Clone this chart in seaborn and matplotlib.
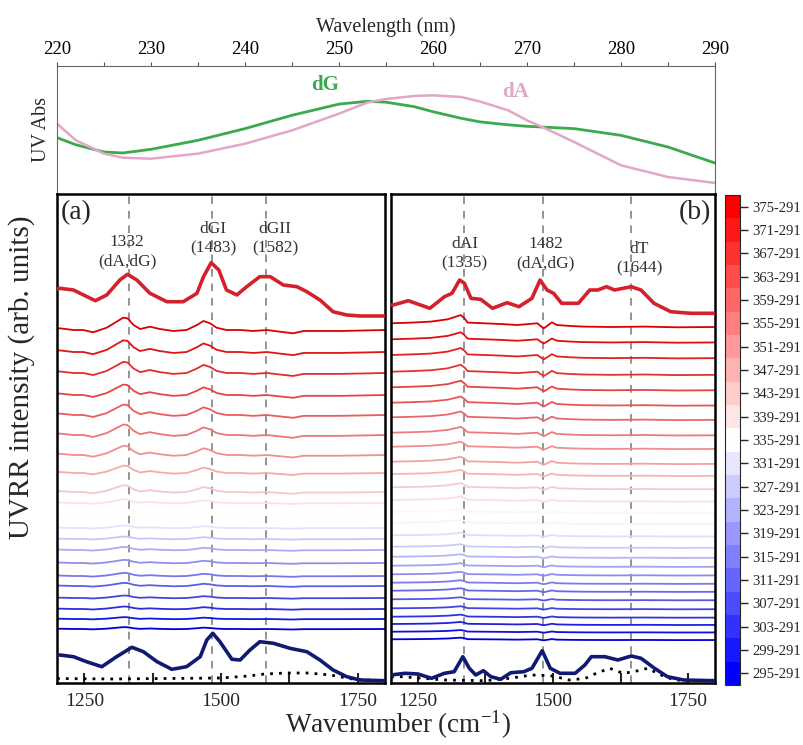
import numpy as np
import matplotlib
matplotlib.use("Agg")
import matplotlib.pyplot as plt
import seaborn as sns
from matplotlib.colors import ListedColormap, BoundaryNorm
from matplotlib.cm import ScalarMappable
from matplotlib.ticker import MultipleLocator

# ---- UV absorption (top panel) ----
wl = [220, 222, 225, 227, 230, 235, 240, 245, 250, 253, 255, 258, 260, 263, 265, 268, 270, 272, 275, 280, 285, 290]
uv_dG = [0.436, 0.38, 0.323, 0.315, 0.344, 0.415, 0.507, 0.612, 0.700, 0.722, 0.715, 0.680, 0.640,
         0.588, 0.560, 0.537, 0.525, 0.518, 0.507, 0.454, 0.362, 0.236]
uv_dA = [0.546, 0.415, 0.310, 0.278, 0.270, 0.310, 0.388, 0.493, 0.625, 0.712, 0.740, 0.764, 0.769,
         0.756, 0.720, 0.651, 0.572, 0.507, 0.402, 0.218, 0.126, 0.079]

# ---- colorbar temperatures ----
temps = [295, 299, 303, 307, 311, 315, 319, 323, 327, 331, 335, 339, 343, 347, 351, 355, 359, 363, 367, 371, 375]

# ---- panel (a) ----
wn_a_top = [1200, 1205, 1230, 1270, 1291, 1315, 1329, 1346, 1370, 1401, 1431, 1456, 1468, 1482, 1496, 1510,
            1529, 1547, 1571, 1590, 1614, 1639, 1657, 1681, 1705, 1730, 1754, 1800]
a_top = [394, 394.7, 393, 382.3, 388, 403, 408.7, 403, 389.7, 381.3, 381.3, 389.7, 406.3, 420.3, 413, 393,
         388, 396.3, 406.3, 406.3, 398, 396.3, 391.3, 383, 371.3, 368, 367, 367]
wn_a_bot = [1200, 1205, 1230, 1254, 1282, 1309, 1337, 1358, 1383, 1410, 1437, 1462, 1474, 1485, 1498, 1520,
            1535, 1553, 1571, 1596, 1626, 1657, 1681, 1705, 1730, 1754, 1800]
a_bot = [28, 28, 26.3, 21.3, 16.3, 26.3, 35.7, 31.3, 21.3, 13.7, 16.3, 26.3, 43, 49.7, 41.3, 23.7,
         23, 33, 41.3, 39.7, 34.7, 31.3, 23, 13, 6.3, 3, 2.3]
wn_a_dot = [1200, 1300, 1400, 1500, 1550, 1580, 1620, 1660, 1700, 1740, 1780, 1800]
a_dot = [4.5, 4, 4.5, 5, 7, 9, 10, 10, 8, 4, 2.5, 2.5]
wn_a_diff = [1200, 1205, 1230, 1248, 1266, 1291, 1309, 1321, 1329, 1340, 1352, 1370, 1388, 1413, 1437, 1456,
             1468, 1480, 1492, 1510, 1535, 1559, 1584, 1608, 1632, 1651, 1675, 1718, 1760, 1800]
diff_a = [1.0, 1.7, 0.0, 0.0, -2.3, 2.3, 8.3, 12.3, 11.7, 5.0, 1.0, 3.3, 1.0, -1.0, 0.0, 5.0,
          9.0, 6.7, 2.3, 0.0, 0.0, -1.0, 0.0, -1.7, -3.3, -1.0, -1.0, -1.0, -0.5, 0.0]
offset_a = [54, 64, 74, 85, 97, 107, 120, 133, 144, 155, 168, 180, 191, 210, 228, 248, 268, 288, 310, 331, 353]
amp_a = [0.15, 0.15, 0.2, 0.2, 0.25, 0.25, 0.25, 0.25, 0.2, 0.2, 0.2,
         0.3, 0.55, 0.6, 0.75, 0.85, 0.85, 0.85, 0.9, 0.95, 1.0]
peaks_a = [1332, 1483, 1582]
labels_a = ["1332\n(dA,dG)", "dGI\n(1483)", "dGII\n(1582)"]
label_pos_a = [(1328, 431), (1486, 444), (1599, 444)]

# ---- panel (b) ----
wn_b_top = [1200, 1204, 1232, 1272, 1299, 1313, 1327, 1336, 1348, 1366, 1388, 1415, 1437, 1461, 1476, 1489,
            1501, 1516, 1547, 1568, 1583, 1599, 1614, 1645, 1663, 1687, 1718, 1755, 1800]
b_top = [378, 378, 382.3, 374.7, 386.3, 389.7, 403, 399.7, 384.7, 383.7, 374.7, 380.3, 376.3, 384.7, 403, 393,
         389.7, 379.7, 379.7, 393, 393, 396.3, 393, 396.3, 393, 379.7, 371.3, 369.7, 369.7]
wn_b_bot = [1200, 1226, 1250, 1275, 1299, 1317, 1333, 1345, 1357, 1371, 1385, 1403, 1422, 1446, 1461, 1480,
            1495, 1513, 1541, 1559, 1571, 1596, 1620, 1645, 1663, 1688, 1712, 1742, 1800]
b_bot = [8, 9.7, 9, 4.7, 9.7, 11.3, 26.3, 14.7, 8, 12.3, 6.3, 3.7, 10.3, 11.3, 14.7, 32.3,
         14.7, 9.7, 9.7, 18, 26.3, 26.3, 23, 27, 24.7, 14.7, 6.3, 3, 2.3]
wn_b_dot = [1200, 1220, 1300, 1375, 1420, 1460, 1480, 1500, 1530, 1560, 1580, 1605, 1630, 1650, 1675, 1700, 1725, 1800]
b_dot = [6, 6.3, 3, 2.3, 4.7, 8, 7.7, 7, 3, 4.7, 9.7, 14.7, 9.7, 11.3, 14.7, 8, 3, 2.3]
wn_b_diff = [1200, 1238, 1274, 1305, 1324, 1329, 1336, 1342, 1373, 1403, 1434, 1471, 1477, 1483, 1489, 1498,
             1507, 1532, 1556, 1608, 1669, 1730, 1800]
diff_b = [0, 0.7, 1.7, 4, 7.3, 8.3, 5, 0.7, 0, -0.7, -1.7, 0, -2.7, -5, -2.7, 1,
          -1.7, -2.7, -3.3, -3.7, -3.3, -4, -3.7]
offset_b = [43.7, 51.3, 59, 66.3, 74.7, 83.7, 92.3, 100.3, 108.7, 117.3, 126.3, 136.3, 147.7, 160.3, 171.3,
            183, 195.7, 209, 221.3, 236.3, 250.3, 265.7, 280.3, 295.7, 311.3, 328, 343.7, 359.7]
amp_b = [0.2, 0.2, 0.25, 0.25, 0.25, 0.25, 0.3, 0.3, 0.3, 0.3, 0.3, 0.3, 0.3, 0.35, 0.35,
         0.4, 0.5, 0.5, 0.6, 0.6, 0.7, 0.7, 0.75, 0.8, 0.85, 0.85, 0.85, 1.0]
peaks_b = [1335, 1482, 1644]
labels_b = ["dAI\n(1335)", "1482\n(dA,dG)", "dT\n(1644)"]
label_pos_b = [(1336, 429), (1486, 429), (1660, 424)]

sns.set_style("ticks")
plt.rcParams['font.family'] = ['Liberation Serif', 'DejaVu Serif']
plt.rcParams['mathtext.default'] = 'regular'

W, H = 804, 745
fig = plt.figure(figsize=(W / 100, H / 100), dpi=100)


def box(l, r, t, b):
    return [l / W, 1 - b / H, (r - l) / W, (b - t) / H]


# top UV panel
ax_uv = fig.add_axes(box(57, 715, 66, 193))
sns.lineplot(x=wl, y=uv_dG, ax=ax_uv, color="#3aaa4c", lw=2.0)
sns.lineplot(x=wl, y=uv_dA, ax=ax_uv, color="#e3a6c8", lw=1.8)
ax_uv.set_xlim(220, 290)
ax_uv.set_ylim(0, 1)
ax_uv.xaxis.tick_top()
ax_uv.xaxis.set_label_position("top")
ax_uv.xaxis.set_major_locator(MultipleLocator(10))
ax_uv.xaxis.set_minor_locator(MultipleLocator(5))
ax_uv.tick_params(axis="x", which="major", direction="out", length=3, width=0.8, labelsize=13.5, pad=3,
                  colors="#555555", labelcolor="black")
ax_uv.tick_params(axis="x", which="minor", direction="out", length=3, width=0.8, colors="#555555")
ax_uv.set_yticks([])
ax_uv.set_xlabel("Wavelength (nm)", fontsize=14.5, labelpad=6)
ax_uv.set_ylabel("UV Abs", fontsize=14.5, labelpad=4)
for s in ["top", "left", "right"]:
    ax_uv.spines[s].set_color("#666666")
    ax_uv.spines[s].set_linewidth(0.8)
ax_uv.spines["bottom"].set_visible(False)
ax_uv.text(248.5, 0.848, "dG", color="#3aaa4c", fontsize=15, fontweight="bold", ha="center", va="center")
ax_uv.text(268.8, 0.795, "dA", color="#e3a6c8", fontsize=15, fontweight="bold", ha="center", va="center")

bwr = plt.get_cmap("bwr")


def line_color(v):
    # slightly deeper tones toward the saturated ends, white stays white
    rgb = np.array(bwr(v)[:3])
    return tuple(rgb * (1 - 0.14 * abs(2 * v - 1)))


colors_a = [line_color(v) for v in np.linspace(0, 1, len(temps))]
colors_b = [line_color(v) for v in np.linspace(0, 1, len(offset_b))]


def draw_panel(ax, wn_diff, diff, offsets, amps, colors, wn_top, top, wn_bot, bot, wn_dot, dot,
               peaks, labels, label_pos):
    for p in peaks:
        ax.axvline(p, color="#777777", lw=1.1, ls=(0, (5, 4.5)), zorder=1)
    tmpl = np.array(diff)
    for off, amp, c in zip(offsets, amps, colors):
        sns.lineplot(x=wn_diff, y=off + amp * tmpl, ax=ax, color=c, lw=1.3, zorder=2)
    sns.lineplot(x=wn_top, y=top, ax=ax, color="#d3222b", lw=2.6, zorder=3)
    sns.lineplot(x=wn_dot, y=dot, ax=ax, color="black", lw=2.0, ls=(0, (1, 2.2)), zorder=3)
    sns.lineplot(x=wn_bot, y=bot, ax=ax, color="#101a72", lw=2.6, zorder=4)
    for txt, (x, y) in zip(labels, label_pos):
        ax.text(x, y, txt, ha="center", va="center", fontsize=12.5, color="#333333",
                linespacing=1.3, multialignment="center")
    ax.set_xlim(1200, 1800)
    ax.set_ylim(0, 489)
    ax.set_yticks([])
    ax.set_xticks([1250, 1500, 1750])
    ax.xaxis.set_minor_locator(MultipleLocator(125))
    ax.tick_params(axis="x", which="both", direction="in", length=7, width=1.5, labelsize=14, pad=7)
    for s in ax.spines.values():
        s.set_color("black")
        s.set_linewidth(1.8)
    ax.set_xlabel("")
    ax.set_ylabel("")


ax_a = fig.add_axes(box(57, 385, 194, 683))
draw_panel(ax_a, wn_a_diff, diff_a, offset_a, amp_a, colors_a, wn_a_top, a_top, wn_a_bot, a_bot,
           wn_a_dot, a_dot, peaks_a, labels_a, label_pos_a)
ax_a.text(1206, 470, "(a)", fontsize=20, ha="left", va="center")

ax_b = fig.add_axes(box(391, 715, 194, 683))
draw_panel(ax_b, wn_b_diff, diff_b, offset_b, amp_b, colors_b, wn_b_top, b_top, wn_b_bot, b_bot,
           wn_b_dot, b_dot, peaks_b, labels_b, label_pos_b)
ax_b.text(1792, 470, "(b)", fontsize=20, ha="right", va="center")

# discrete colorbar
cax = fig.add_axes(box(725, 740, 195, 685))
cmap = ListedColormap([bwr(v) for v in np.linspace(0, 1, len(temps))])
norm = BoundaryNorm(np.arange(len(temps) + 1) - 0.5, len(temps))
cb = fig.colorbar(ScalarMappable(norm=norm, cmap=cmap), cax=cax, ticks=np.arange(len(temps)))
cb.set_ticklabels([f"{t}-291" for t in temps])
cb.outline.set_linewidth(0.8)
cax.tick_params(length=6, width=1, labelsize=10.5, pad=3)
cax.minorticks_off()

fig.text(22 / W, 1 - 377 / H, "UVRR intensity (arb. units)", rotation=90, ha="center", va="center", fontsize=21)
fig.text(398 / W, 1 - 733 / H, "Wavenumber (cm$^{-1}$)", ha="center", va="baseline", fontsize=19.5)

fig.savefig("out.png", dpi=100)
